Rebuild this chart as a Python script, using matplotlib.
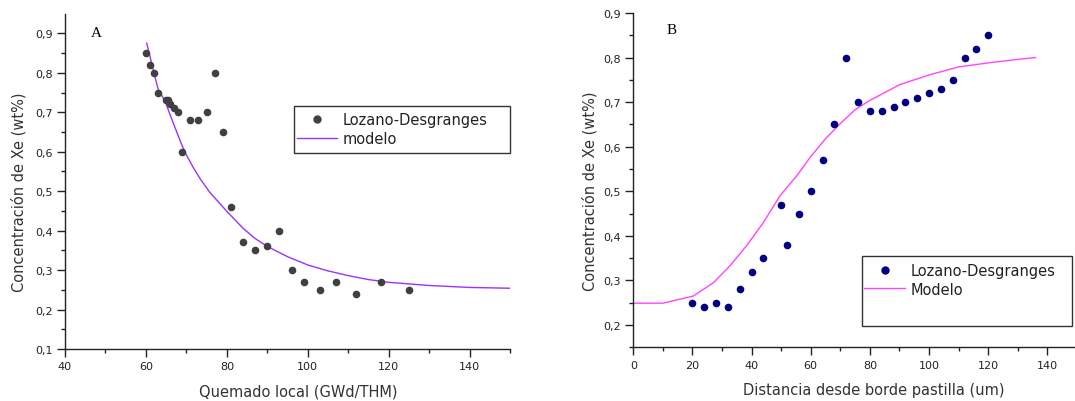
import matplotlib
matplotlib.use("Agg")
import matplotlib.pyplot as plt
from matplotlib.ticker import MultipleLocator, FuncFormatter
from matplotlib.patches import Rectangle
from matplotlib.lines import Line2D

# ---------------- Data: panel A ----------------
a_x = [60, 61, 62, 63, 65, 65.4, 66, 67, 68, 69, 71, 73, 75, 77, 79, 81, 84, 87, 90,
       93, 96, 99, 103, 107, 112, 118, 125]
a_y = [0.85, 0.82, 0.80, 0.75, 0.73, 0.73, 0.72, 0.71, 0.70, 0.60, 0.68, 0.68, 0.70,
       0.80, 0.65, 0.46, 0.37, 0.35, 0.36, 0.40, 0.30, 0.27, 0.25, 0.27, 0.24, 0.27, 0.25]
a_model_x = [60.2, 62, 63, 64.7, 66.7, 68.8, 70, 71.7, 73.5, 75.8, 79.9, 84, 87, 90,
             95, 100, 105, 110, 115, 120, 130, 140, 150]
a_model_y = [0.875, 0.80, 0.759, 0.729, 0.674, 0.619, 0.592, 0.56, 0.53, 0.497, 0.45,
             0.406, 0.38, 0.36, 0.334, 0.313, 0.298, 0.286, 0.276, 0.269, 0.261,
             0.256, 0.254]

# ---------------- Data: panel B ----------------
b_x = [20, 24, 28, 32, 36, 40, 44, 50, 52, 56, 60, 64, 68, 72, 76, 80, 84, 88, 92,
       96, 100, 104, 108, 112, 116, 120]
b_y = [0.25, 0.24, 0.25, 0.24, 0.28, 0.32, 0.35, 0.47, 0.38, 0.45, 0.50, 0.57, 0.65,
       0.80, 0.70, 0.68, 0.68, 0.69, 0.70, 0.71, 0.72, 0.73, 0.75, 0.80, 0.82, 0.85]
b_model_x = [0, 10, 15.8, 20.3, 27.1, 32.7, 38.3, 44, 49.6, 55.3, 60, 65, 70, 75, 80,
             90, 100, 110, 120, 130, 136]
b_model_y = [0.249, 0.249, 0.258, 0.265, 0.295, 0.333, 0.378, 0.43, 0.49, 0.535,
             0.578, 0.618, 0.652, 0.683, 0.704, 0.739, 0.761, 0.779, 0.788, 0.796, 0.80]

ylabel = "Concentración de Xe (wt%)"
a_xlabel = "Quemado local (GWd/THM)"
b_xlabel = "Distancia desde borde pastilla (um)"
a_leg = ["Lozano-Desgranges", "modelo"]
b_leg = ["Lozano-Desgranges", "Modelo"]

plt.rcParams['font.family'] = ['DejaVu Sans']

W, H = 1075, 402
fig = plt.figure(figsize=(W / 100, H / 100), dpi=100)

def px_axes(l, t, r, b):
    return fig.add_axes([l / W, 1 - b / H, (r - l) / W, (b - t) / H])

comma = FuncFormatter(lambda v, p: ("%g" % round(v, 3)).replace(".", ","))

def style(ax):
    for s in ["top", "right"]:
        ax.spines[s].set_visible(False)
    for s in ["left", "bottom"]:
        ax.spines[s].set_linewidth(1.0)
        ax.spines[s].set_color("#222222")
    ax.tick_params(which="major", direction="out", length=6, width=1, labelsize=8,
                   colors="#222222", pad=3)
    ax.tick_params(which="minor", direction="out", length=3, width=1, colors="#222222")
    ax.xaxis.set_major_formatter(comma)
    ax.yaxis.set_major_formatter(comma)
    ax.xaxis.set_major_locator(MultipleLocator(20))
    ax.xaxis.set_minor_locator(MultipleLocator(10))
    ax.yaxis.set_major_locator(MultipleLocator(0.1))
    ax.yaxis.set_minor_locator(MultipleLocator(0.05))

def labels(ax, xl, xlx, ylx):
    ax.set_xlabel(xl, fontsize=10.5, color="#333333")
    ax.set_ylabel(ylabel, fontsize=10.5, color="#333333")
    ax.xaxis.set_label_coords(xlx, -0.125)
    ax.xaxis.label.set_verticalalignment("center")
    ax.yaxis.set_label_coords(ylx, 0.47)
    ax.yaxis.label.set_verticalalignment("center")

def legend(ax, handles, texts, x0, y0, w, h, lx, ly):
    ax.add_patch(Rectangle((x0, y0), w, h, transform=ax.transAxes, fill=False,
                           edgecolor="#333333", lw=1.0, clip_on=False))
    ax.legend(handles, texts, loc="upper left", bbox_to_anchor=(lx, ly), frameon=False,
              fontsize=10.5, handlelength=2.78, labelspacing=0.24, handletextpad=0.36,
              borderaxespad=0, borderpad=0, labelcolor="#222222")

# Panel A
axA = px_axes(65, 15, 510, 350)
style(axA)
axA.plot(a_model_x, a_model_y, color="#9933ff", lw=1.0)
axA.scatter(a_x, a_y, s=20, color="#404040", edgecolors="#404040", zorder=3)
axA.set_xlim(40, 150)
axA.set_ylim(0.1, 0.949)
labels(axA, a_xlabel, 0.524, -0.103)
fig.text(96.7 / W, 1 - 33.3 / H, "A", family="Liberation Serif", fontsize=11,
         ha="center", va="center")
hA = [Line2D([], [], ls="none", marker="o", ms=5, color="#404040"),
      Line2D([], [], color="#9933ff", lw=1.0)]
legend(axA, hA, a_leg, 0.515, 0.584, 0.484, 0.1405, 0.521, 0.706)

# Panel B
axB = px_axes(633.3, 14, 1076.9, 348.3)
style(axB)
axB.plot(b_model_x, b_model_y, color="#ff44ff", lw=1.0)
axB.scatter(b_x, b_y, s=20, color="#000080", edgecolors="#000080", zorder=3)
axB.set_xlim(0, 150)
axB.set_ylim(0.15, 0.9)
labels(axB, b_xlabel, 0.541, -0.098)
fig.text(671.7 / W, 1 - 30 / H, "B", family="Liberation Serif", fontsize=11,
         ha="center", va="center")
hB = [Line2D([], [], ls="none", marker="o", ms=5, color="#000080"),
      Line2D([], [], color="#ff44ff", lw=1.0)]
legend(axB, hB, b_leg, 0.516, 0.0646, 0.472, 0.2094, 0.521, 0.252)

fig.savefig("out.png", dpi=100)
